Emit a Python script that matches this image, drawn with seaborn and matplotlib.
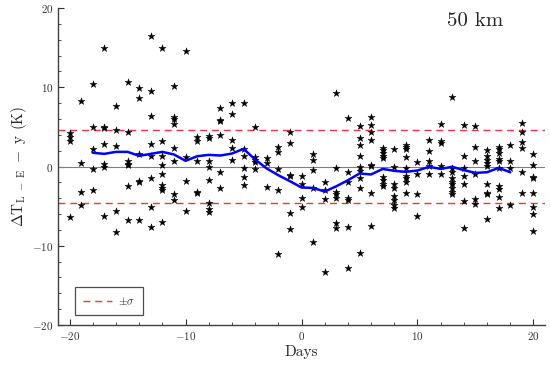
import numpy as np
import pandas as pd
import matplotlib
matplotlib.use("Agg")
import matplotlib.pyplot as plt
import seaborn as sns

# ---- data ----
day_m20 = [4.25, 3.75, 3.2, -6.4]
day_m19 = [8.25, 0.47, -3.24, -4.88]
day_m18 = [10.4, 5.0, 2.15, -0.25, -2.9]
day_m17 = [14.9, 5.0, 4.8, 2.86, 0.34, -0.08, -6.3]
day_m16 = [7.7, 4.6, 2.56, -5.6, -8.25]
day_m15 = [10.7, 4.38, 0.67, 0.38, 0.17, -2.5, -6.7]
day_m14 = [9.9, 8.67, 1.6, -1.77, -1.9, -6.7]
day_m13 = [16.5, 9.5, 6.4, 2.86, 1.3, -1.5, -5.1, -7.6]
day_m12 = [14.9, 3.28, 1.3, 0.17, -1.0, -2.36, -2.7, -3.0, -7.0]
day_m11 = [10.1, 6.27, 6.06, 5.4, 2.36, 0.76, -3.5, -4.2]
day_m10 = [14.6, 1.22, -1.85, -5.6]
day_m9 = [3.75, 3.2, 0.67, -3.16, -3.4]
day_m8 = [3.88, 3.54, 0.76, -0.04, -1.68, -4.55, -5.34, -5.77]
day_m7 = [7.4, 5.9, 5.77, 3.95, -0.67, -2.7]
day_m6 = [8.0, 6.65, 3.32, 2.36, 0.88]
day_m5 = [8.0, 2.15, 1.39, -0.13, -1.3, -2.27]
day_m4 = [5.05, 1.18, 0.88, 0.59, -0.3]
day_m3 = [1.1, 0.47, -2.6]
day_m2 = [2.44, 1.8, -0.25, -3.0, -11.0]
day_m1 = [4.3, 3.0, -1.05, -1.22, -5.85, -7.87]
day_0 = [-1.22, -2.15, -4.0, -5.1]
day_1 = [1.52, 0.8, -0.46, -2.74, -9.5]
day_2 = [-1.98, -2.9, -4.08, -13.3]
day_3 = [9.3, -0.17, -3.24, -3.5, -4.0, -7.1, -7.8]
day_4 = [6.15, -0.67, -1.93, -3.95, -4.2, -7.6, -12.75]
day_5 = [5.1, 3.66, 2.74, 1.35, -0.04, -0.55, -1.47, -2.74, -10.9]
day_6 = [6.23, 5.2, 4.3, 3.32, 0.25, 0.04, -3.4, -7.45]
day_7 = [2.36, 2.06, 1.73, 1.39, 1.1, -1.35, -1.73, -2.19, -2.5]
day_8 = [2.23, -0.04, -2.15, -2.7, -3.75, -4.17, -4.8, -5.2]
day_9 = [2.78, 2.49, 2.23, 1.22, -0.17, -1.18, -1.43, -1.98, -3.37]
day_10 = [0.63, -0.88, -3.5, -6.27]
day_11 = [3.4, 1.93, 0.76, 0.04, -0.97]
day_12 = [5.4, 3.28, 3.0, 0.04, -0.88]
day_13 = [8.75, -0.17, -0.72, -1.43, -1.98, -2.15, -2.7, -3.24, -3.5]
day_14 = [5.18, 1.3, -0.17, -1.18, -2.15, -4.38, -7.74]
day_15 = [5.1, 2.44, 0.76, -0.97, -4.04, -4.67]
day_16 = [2.06, 1.3, 0.88, 0.47, 0.04, -2.15, -3.3, -3.5, -6.6]
day_17 = [2.49, 2.15, 1.73, 1.0, 0.67, -0.17, -2.4, -2.8, -3.87, -5.18]
day_18 = [2.78, 0.76, -0.17, -4.88]
day_19 = [5.5, 4.33, 3.1, 2.36, -0.72, -3.3]
day_20 = [1.52, 0.13, -1.3, -1.47, -3.3, -5.1, -6.0, -8.16]

obs_days = list(range(-20, 21))
obs_values = [day_m20, day_m19, day_m18, day_m17, day_m16, day_m15, day_m14,
              day_m13, day_m12, day_m11, day_m10, day_m9, day_m8, day_m7,
              day_m6, day_m5, day_m4, day_m3, day_m2, day_m1, day_0, day_1,
              day_2, day_3, day_4, day_5, day_6, day_7, day_8, day_9, day_10,
              day_11, day_12, day_13, day_14, day_15, day_16, day_17, day_18,
              day_19, day_20]

mean_days = list(range(-18, 19))
mean_vals = [1.73, 1.6, 1.85, 1.85, 1.35, 1.6, 1.85, 1.52, 0.72, 1.3, 1.47,
             1.39, 1.64, 2.23, 0.88, -0.25, -1.1, -1.85, -2.65, -2.7, -3.16,
             -2.49, -1.73, -0.88, -1.0, -0.3, -0.55, -0.67, -0.5, -0.04, -0.3,
             -0.04, -0.46, -0.8, -0.72, -0.17, -0.72]

sigma = 4.55
x_ticks = [-20, -10, 0, 10, 20]
y_ticks = [-20, -10, 0, 10, 20]
panel_label = "50 km"

# ---- build tables ----
rows = [(d, v) for d, vals in zip(obs_days, obs_values) for v in vals]
df_obs = pd.DataFrame(rows, columns=["day", "dT"])
df_mean = pd.DataFrame({"day": mean_days, "dT": mean_vals})

sns.set_style("ticks")
plt.rcParams["font.family"] = ["cmr10", "DejaVu Serif"]
plt.rcParams["mathtext.fontset"] = "cm"
plt.rcParams["axes.formatter.use_mathtext"] = True
plt.rcParams["axes.unicode_minus"] = True

fig = plt.figure(figsize=(5.5, 3.66), dpi=100)
ax = fig.add_axes([0.1055, 0.112, 0.8855, 0.866])

ax.axhline(0, color="#808080", lw=0.8, zorder=1)
ax.axhline(sigma, color="#e8383d", lw=1.0, ls=(0, (5, 3.5)), zorder=1,
           label=r"$\pm\sigma$")
ax.axhline(-sigma, color="#e8383d", lw=1.0, ls=(0, (5, 3.5)), zorder=1)

sns.scatterplot(data=df_obs, x="day", y="dT", marker="*", color="black",
                s=28, edgecolor="black", linewidth=0.3, ax=ax, zorder=3,
                legend=False)
sns.lineplot(data=df_mean, x="day", y="dT", color="#0000ff", lw=1.8, ax=ax,
             zorder=4, legend=False)

ax.set_xlim(-21, 21)
ax.set_ylim(-20, 20)
ax.set_xticks(x_ticks)
ax.set_yticks(y_ticks)
ax.set_xticks(np.arange(-20, 21, 2), minor=True)
ax.set_yticks(np.arange(-20, 21, 2), minor=True)
ax.tick_params(which="major", direction="in", length=4, width=0.8,
               labelsize=8, colors="#303030")
ax.tick_params(which="minor", direction="in", length=2, width=0.6,
               colors="#303030")
for s in ["top", "right"]:
    ax.spines[s].set_visible(False)
for s in ["left", "bottom"]:
    ax.spines[s].set_color("#404040")
    ax.spines[s].set_linewidth(1.0)

ax.set_xlabel("Days", fontsize=11, labelpad=2)
ax.set_ylabel(r"$\Delta\mathrm{T}_{\mathrm{L\ -\ E}}\ -\ \mathrm{y}$ (K)",
              fontsize=11, labelpad=2)

ax.text(15.0, 18.4, panel_label, fontsize=15, ha="center", va="center")

leg = ax.legend(loc="lower left", bbox_to_anchor=(0.035, 0.032), fontsize=8,
                frameon=True, fancybox=False, handlelength=2.6,
                borderpad=0.7, handletextpad=0.6, borderaxespad=0)
leg.get_frame().set_edgecolor("#202020")
leg.get_frame().set_linewidth(0.9)

fig.savefig("out.png", dpi=100)
